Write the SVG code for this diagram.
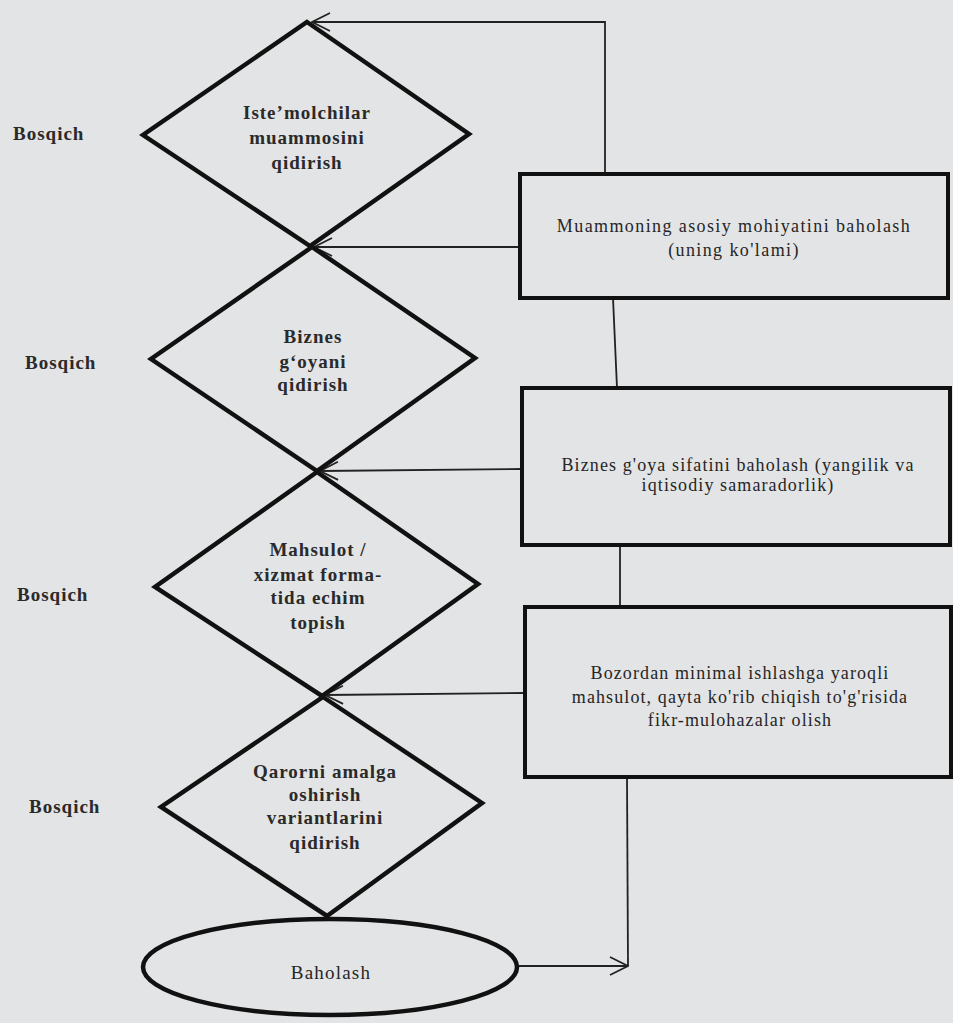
<svg xmlns="http://www.w3.org/2000/svg" width="953" height="1023" viewBox="0 0 953 1023">
<style>
.bg{fill:#e3e4e5}
.shape{fill:none;stroke:#111;stroke-width:4.5;stroke-linejoin:miter}
.box{fill:none;stroke:#111;stroke-width:4}
.conn{fill:none;stroke:#222;stroke-width:1.8}
.lbl{font-family:"Liberation Serif",serif;font-weight:bold;font-size:19px;letter-spacing:1px;fill:#2a2a2a}
.dt{font-family:"Liberation Serif",serif;font-weight:bold;font-size:19px;letter-spacing:1px;fill:#2a2a2a;text-anchor:middle}
.bt{font-family:"Liberation Serif",serif;font-size:18px;letter-spacing:1.1px;fill:#262626;text-anchor:middle}
.bt1{letter-spacing:1.4px}
.et{font-family:"Liberation Serif",serif;font-size:19px;letter-spacing:1.2px;fill:#262626;text-anchor:middle}
</style>
<defs>
<marker id="arr" viewBox="0 0 20 20" refX="19" refY="10" markerWidth="20" markerHeight="20" markerUnits="userSpaceOnUse" orient="auto">
<path d="M1 1 L19 10 L1 19" fill="none" stroke="#222" stroke-width="1.8"/>
</marker>
</defs>
<rect class="bg" x="0" y="0" width="953" height="1023"/>

<g id="labels">
<text class="lbl" x="13" y="140">Bosqich</text>
<text class="lbl" x="25" y="369">Bosqich</text>
<text class="lbl" x="17" y="601">Bosqich</text>
<text class="lbl" x="29" y="813">Bosqich</text>
</g>

<g id="connectors">
<path class="conn" d="M605 173 L605 22 L312 22" marker-end="url(#arr)"/>
<path class="conn" d="M520 247 L314 247" marker-end="url(#arr)"/>
<path class="conn" d="M613 298 L617 388"/>
<path class="conn" d="M522 469 L320 471" marker-end="url(#arr)"/>
<path class="conn" d="M620 545 L620 607"/>
<path class="conn" d="M525 693 L325 695" marker-end="url(#arr)"/>
<path class="conn" d="M627 777 L628 966"/>
<path class="conn" d="M517 966 L628 966" marker-end="url(#arr)"/>
</g>

<g id="stage1">
<polygon class="shape" points="307,22 469,134 310,246 143,135"/>
<text class="dt" x="307" y="119">Iste’molchilar</text>
<text class="dt" x="307" y="144">muammosini</text>
<text class="dt" x="307" y="169">qidirish</text>
</g>

<g id="stage2">
<polygon class="shape" points="312,247 475,358 317,471 151,359"/>
<text class="dt" x="313" y="343">Biznes</text>
<text class="dt" x="313" y="368">g‘oyani</text>
<text class="dt" x="313" y="391">qidirish</text>
</g>

<g id="stage3">
<polygon class="shape" points="317,472 478,584 322,696 155,587"/>
<text class="dt" x="318" y="556">Mahsulot /</text>
<text class="dt" x="318" y="581">xizmat forma-</text>
<text class="dt" x="318" y="604">tida echim</text>
<text class="dt" x="318" y="629">topish</text>
</g>

<g id="stage4">
<polygon class="shape" points="323,697 482,803 327,916 161,807"/>
<text class="dt" x="325" y="778">Qarorni amalga</text>
<text class="dt" x="325" y="801">oshirish</text>
<text class="dt" x="325" y="824">variantlarini</text>
<text class="dt" x="325" y="849">qidirish</text>
</g>

<g id="baholash">
<ellipse class="shape" cx="330" cy="967" rx="187" ry="48"/>
<text class="et" x="331" y="979">Baholash</text>
</g>

<g id="box1">
<rect class="box" x="520" y="174" width="428" height="124"/>
<text class="bt bt1" x="734" y="232">Muammoning asosiy mohiyatini baholash</text>
<text class="bt bt1" x="734" y="256">(uning ko'lami)</text>
</g>

<g id="box2">
<rect class="box" x="522" y="388" width="428" height="157"/>
<text class="bt" x="738" y="471">Biznes g'oya sifatini baholash (yangilik va</text>
<text class="bt" x="738" y="491">iqtisodiy samaradorlik)</text>
</g>

<g id="box3">
<rect class="box" x="525" y="607" width="426" height="170"/>
<text class="bt" x="740" y="679">Bozordan minimal ishlashga yaroqli</text>
<text class="bt" x="740" y="703">mahsulot, qayta ko'rib chiqish to'g'risida</text>
<text class="bt" x="740" y="726">fikr-mulohazalar olish</text>
</g>
</svg>
